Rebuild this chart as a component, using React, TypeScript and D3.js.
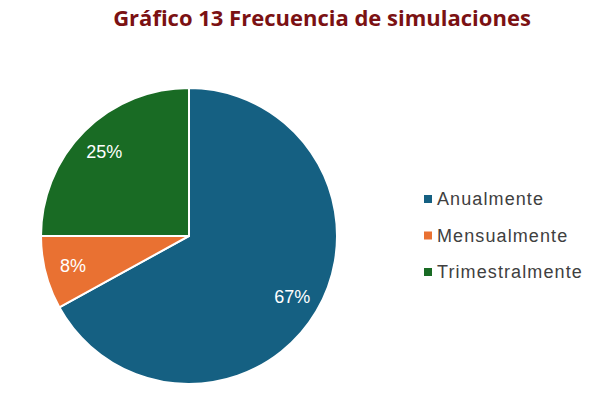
import React from 'react';
import * as d3 from 'd3';

const categories = ['Anualmente', 'Mensualmente', 'Trimestralmente'];
const values = [67, 8, 25];
const colors = ['#156082', '#E97132', '#196B24'];

const width = 600;
const height = 402;
const cx = 189;
const cy = 236;
const radius = 148;

export default function App() {
  const pie = d3.pie<number>().sort(null).value(d => d)(values);
  const arc = d3.arc<d3.PieArcDatum<number>>().innerRadius(0).outerRadius(radius);
  const labelArc = d3
    .arc<d3.PieArcDatum<number>>()
    .innerRadius(radius * 0.81)
    .outerRadius(radius * 0.81);

  const legendY = d3.scalePoint<string>().domain(categories).range([199, 272]);

  return (
    <svg
      width={width}
      height={height}
      style={{ position: 'absolute', left: 0, top: 0, background: '#fff' }}
    >
      <text
        x={322}
        y={26}
        textAnchor="middle"
        fill="#7B1113"
        fontFamily="'Open Sans', sans-serif"
        fontWeight="bold"
        fontSize={22}
      >
        Gráfico 13 Frecuencia de simulaciones
      </text>

      <g transform={`translate(${cx},${cy})`}>
        {pie.map((d, i) => (
          <path key={i} d={arc(d) || ''} fill={colors[i]} stroke="#fff" strokeWidth={2} />
        ))}
        {pie.map((d, i) => {
          const [x, y] = labelArc.centroid(d);
          return (
            <text
              key={i}
              x={x}
              y={y}
              dy="0.35em"
              textAnchor="middle"
              fill="#fff"
              fontFamily="'Liberation Sans', Arial, sans-serif"
              fontSize={18}
            >
              {d.data}%
            </text>
          );
        })}
      </g>

      {categories.map((c, i) => (
        <g key={c} transform={`translate(424,${legendY(c)})`}>
          <rect x={0} y={-4} width={8} height={8} fill={colors[i]} />
          <text
            x={13}
            y={0}
            dy="0.35em"
            fill="#404040"
            fontFamily="'Liberation Sans', Arial, sans-serif"
            fontSize={18}
            letterSpacing={1.1}
          >
            {c}
          </text>
        </g>
      ))}
    </svg>
  );
}
